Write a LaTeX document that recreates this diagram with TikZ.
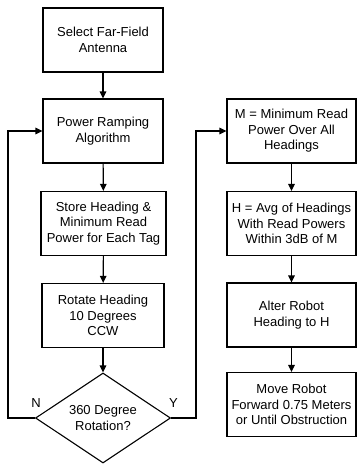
\documentclass[tikz,border=0pt]{standalone}
\usepackage{fontspec}
\setmainfont{Liberation Sans}
\usetikzlibrary{arrows.meta,shapes.geometric}
\tikzset{
  box/.style={draw=black, fill=white, align=center, font=\fontsize{13}{15.5}\selectfont,
              line width=1.1pt, minimum width=120pt, minimum height=64pt, inner sep=2pt},
  widebox/.style={box, minimum width=129pt},
  decbox/.style={box, diamond, minimum width=135pt, minimum height=90pt, aspect=1.5},
  ar/.style={-{Triangle[length=7pt,width=6.5pt]}, line width=1.1pt},
  lbl/.style={font=\fontsize{13}{15.5}\selectfont, inner sep=0pt}
}
\begin{document}
\begin{tikzpicture}[x=1pt,y=-1pt]
  \useasboundingbox (0,0) rectangle (357,464);

  % left column
  \node[box] (sel) at (103,40) {Select Far-Field\\Antenna};
  \node[box] (ramp) at (103,131) {Power Ramping\\Algorithm};
  \node[box, minimum width=125pt] (store) at (103.5,223.5) {Store Heading \&\\Minimum Read\\Power for Each Tag};
  \node[box, minimum width=122pt] (rot) at (103,315.5) {Rotate Heading\\10 Degrees\\CCW};
  \node[decbox] (dec) at (103,418) {360 Degree\\Rotation?};

  % right column
  \node[widebox] (minp) at (291.5,131) {M = Minimum Read\\Power Over All\\Headings};
  \node[widebox] (avg) at (291.5,223.5) {H = Avg of Headings\\With Read Powers\\Within 3dB of M};
  \node[widebox] (alter) at (291.5,315) {Alter Robot\\Heading to H};
  \node[widebox] (move) at (291.5,404.5) {Move Robot\\Forward 0.75 Meters\\or Until Obstruction};

  \coordinate (nturn) at (8,418);
  \coordinate (yturn) at (196,418);
  \node[lbl] (nlbl) at (36,403) {N};
  \node[lbl] (ylbl) at (173.5,403) {Y};

  \draw[ar] (sel) -- (ramp);
  \draw[ar] (ramp) -- (store);
  \draw[ar] (store) -- (rot);
  \draw[ar] (rot) -- (dec);
  \draw[ar] (dec.west) -- (nturn) |- (ramp.west);
  \draw[ar] (dec.east) -- (yturn) |- (minp.west);
  \draw[ar] (minp) -- (avg);
  \draw[ar] (avg) -- (alter);
  \draw[ar] (alter) -- (move);
\end{tikzpicture}
\end{document}
